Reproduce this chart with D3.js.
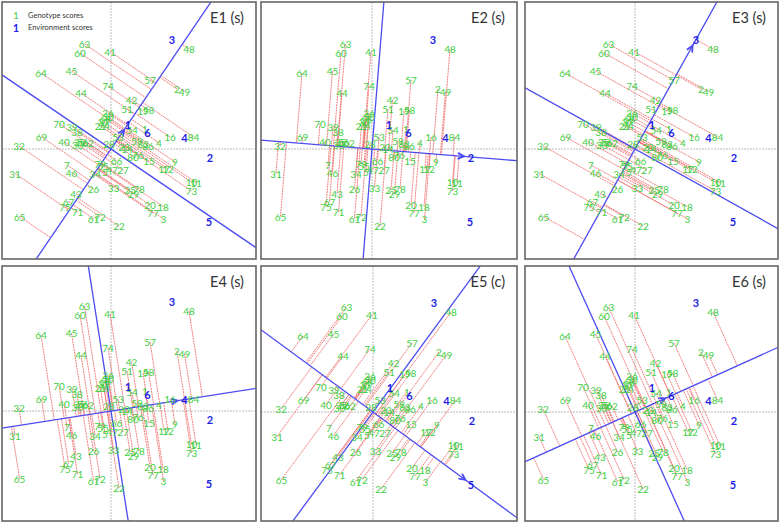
<html>
<head>
<meta charset="utf-8">
<style>
  body { margin: 0; background: #fff; }
  svg { display: block; font-family: Lato, "Open Sans", sans-serif; }
</style>
</head>
<body>
<script src="https://cdn.jsdelivr.net/npm/d3@7/dist/d3.min.js"></script>
<script>
// genotype scores (PC1, PC2)
var genoNames = ["63","60","41","48","64","45","57","74","2","49","44","42","51","19","58","36","68","50","37","21","24","54","1","70","39","38","69","40","35","56","30","62","32","28","53","59","83","86","4","16","84","23","14","80","76","15","9","17","12","66","79","55","5","47","27","34","7","46","31","26","33","43","25","29","78","10","11","73","67","75","71","20","18","77","3","61","72","22","65"];
var genoPC1 = [-2.65,-3.1,-0.1,7.8,-7.0,-3.95,3.9,-0.3,6.6,7.35,-3.0,2.05,1.6,3.2,3.75,-0.3,-0.6,-0.3,-0.75,-1.05,-0.7,2.1,3.4,-5.2,-3.9,-3.4,-6.95,-4.7,-3.15,-2.85,-3.35,-2.3,-9.2,-0.2,0.7,2.6,3.2,3.7,4.8,5.9,8.25,1.3,1.6,2.2,2.7,3.8,6.4,5.3,5.7,0.55,-1.1,-0.8,-0.6,0.1,1.2,-1.6,-4.4,-3.95,-9.6,-1.75,0.25,-3.5,1.9,2.25,2.8,8.05,8.5,8.05,-4.25,-4.6,-3.35,3.9,5.2,4.2,5.25,-1.75,-1.1,0.8,-9.15];
var genoPC2 = [10.5,9.6,9.75,10.0,7.6,7.8,6.9,6.3,6.0,5.75,5.6,4.95,4.0,3.8,3.9,3.6,3.05,3.2,2.7,2.3,2.3,1.9,2.05,2.55,2.25,1.75,1.2,0.75,0.75,0.75,0.45,0.6,0.3,0.5,1.2,0.85,0.55,0.35,0.6,1.2,1.2,0.2,0.0,-0.75,-0.6,-1.2,-1.3,-1.95,-2.0,-1.15,-1.5,-1.65,-2.3,-2.1,-2.1,-2.45,-1.6,-2.35,-2.45,-4.0,-3.85,-4.45,-4.1,-4.45,-4.0,-3.3,-3.35,-4.2,-5.25,-5.75,-6.3,-5.6,-5.75,-6.4,-7.0,-6.95,-6.75,-7.7,-6.75];

// environment scores (PC1, PC2)
var envNames = ["1","2","3","4","5","6"];
var envPC1 = [1.7,9.9,6.1,7.35,9.8,3.65];
var envPC2 = [2.5,-0.8,10.95,1.15,-7.2,1.65];

var panelTitles = ["E1 (s)","E2 (s)","E3 (s)","E4 (s)","E5 (c)","E6 (s)"];

// layout of the six frames (pixels)
var frames = [
  {x0:2,   y0:2,   w:254, h:257, ox:111, oy:149},
  {x0:261, y0:2,   w:256, h:257, ox:372, oy:149},
  {x0:525, y0:2,   w:253, h:257, ox:635, oy:149},
  {x0:2,   y0:266, w:254, h:255, ox:111, oy:411},
  {x0:261, y0:266, w:256, h:255, ox:373, oy:412},
  {x0:525, y0:266, w:253, h:255, ox:635, oy:412}
];

var green = "#3fcf3f", blue = "#1f1fe6", lineBlue = "#4b4bf2", red = "#f06a6a";

var genos = genoNames.map(function(n,i){ return {name:n, x:genoPC1[i], y:genoPC2[i]}; });
var envs = envNames.map(function(n,i){ return {name:n, x:envPC1[i], y:envPC2[i]}; });

var svg = d3.select("body").append("svg")
  .attr("width", 782)
  .attr("height", 524);

frames.forEach(function(f, k){
  var x = d3.scaleLinear().domain([-10,10]).range([f.ox-100, f.ox+100]);
  var y = d3.scaleLinear().domain([-10,10]).range([f.oy+100, f.oy-100]);
  var env = envs[k];
  var len = Math.sqrt(env.x*env.x + env.y*env.y);
  var ux = env.x/len, uy = env.y/len;

  svg.append("clipPath").attr("id","clip"+k)
    .append("rect").attr("x", f.x0).attr("y", f.y0).attr("width", f.w).attr("height", f.h);

  var g = svg.append("g").attr("clip-path","url(#clip"+k+")");

  // crosshair through origin
  g.append("line").attr("x1", f.x0).attr("x2", f.x0+f.w).attr("y1", y(0)).attr("y2", y(0))
    .attr("stroke","#aaa").attr("stroke-width",0.8).attr("stroke-dasharray","2,1");
  g.append("line").attr("y1", f.y0).attr("y2", f.y0+f.h).attr("x1", x(0)).attr("x2", x(0))
    .attr("stroke","#aaa").attr("stroke-width",0.8).attr("stroke-dasharray","2,1");

  // projections onto the environment axis
  g.selectAll(".proj").data(genos).enter().append("line")
    .attr("class","proj")
    .attr("x1", function(d){ return x(d.x); })
    .attr("y1", function(d){ return y(d.y); })
    .attr("x2", function(d){ var t = d.x*ux + d.y*uy; return x(t*ux); })
    .attr("y2", function(d){ var t = d.x*ux + d.y*uy; return y(t*uy); })
    .attr("stroke", red).attr("stroke-width",1).attr("stroke-opacity",0.85)
    .attr("stroke-dasharray","2,0.7");

  // environment axis and its perpendicular
  g.append("line")
    .attr("x1", x(-40*ux)).attr("y1", y(-40*uy))
    .attr("x2", x(40*ux)).attr("y2", y(40*uy))
    .attr("stroke", lineBlue).attr("stroke-width",1.3);
  g.append("line")
    .attr("x1", x(40*uy)).attr("y1", y(-40*ux))
    .attr("x2", x(-40*uy)).attr("y2", y(40*ux))
    .attr("stroke", lineBlue).attr("stroke-width",1.3);

  // arrow head near the chosen environment
  var tipLen = len - 0.7;
  var tx = x(tipLen*ux), ty = y(tipLen*uy);
  var ang = Math.atan2(-uy, ux);
  var a = 7, sp = 0.45;
  g.append("path")
    .attr("d", "M" + (tx - a*Math.cos(ang-sp)) + "," + (ty - a*Math.sin(ang-sp)) +
               "L" + tx + "," + ty +
               "L" + (tx - a*Math.cos(ang+sp)) + "," + (ty - a*Math.sin(ang+sp)))
    .attr("fill","none").attr("stroke", lineBlue).attr("stroke-width",1.8);

  // genotype labels
  g.selectAll(".geno").data(genos).enter().append("text")
    .attr("class","geno")
    .attr("x", function(d){ return x(d.x); })
    .attr("y", function(d){ return y(d.y); })
    .attr("text-anchor","middle").attr("dominant-baseline","central")
    .attr("font-size", 10).attr("fill", green)
    .text(function(d){ return d.name; });

  // environment labels
  g.selectAll(".env").data(envs).enter().append("text")
    .attr("class","env")
    .attr("x", function(d){ return x(d.x); })
    .attr("y", function(d){ return y(d.y); })
    .attr("text-anchor","middle").attr("dominant-baseline","central")
    .attr("font-size", 11).attr("font-weight","bold").attr("fill", blue)
    .text(function(d){ return d.name; });

  // title
  svg.append("text")
    .attr("x", f.x0 + f.w - 12).attr("y", f.y0 + 21)
    .attr("text-anchor","end")
    .attr("font-size", 14.5).attr("fill","#333")
    .text(panelTitles[k]);

  // frame
  svg.append("rect")
    .attr("x", f.x0).attr("y", f.y0).attr("width", f.w).attr("height", f.h)
    .attr("fill","none").attr("stroke","#666").attr("stroke-width",1.6);
});

// legend in the first frame
var legend = svg.append("g").attr("transform","translate(16,0)");
legend.append("text").attr("x",0).attr("y",15).attr("dominant-baseline","central")
  .attr("text-anchor","middle").attr("font-size",10).attr("fill",green).text("1");
legend.append("text").attr("x",12).attr("y",15).attr("dominant-baseline","central")
  .attr("font-size",7.5).attr("fill","#333").text("Genotype scores");
legend.append("text").attr("x",0).attr("y",27).attr("dominant-baseline","central")
  .attr("text-anchor","middle").attr("font-size",11).attr("font-weight","bold").attr("fill",blue).text("1");
legend.append("text").attr("x",12).attr("y",27).attr("dominant-baseline","central")
  .attr("font-size",7.5).attr("fill","#333").text("Environment scores");
</script>
</body>
</html>
